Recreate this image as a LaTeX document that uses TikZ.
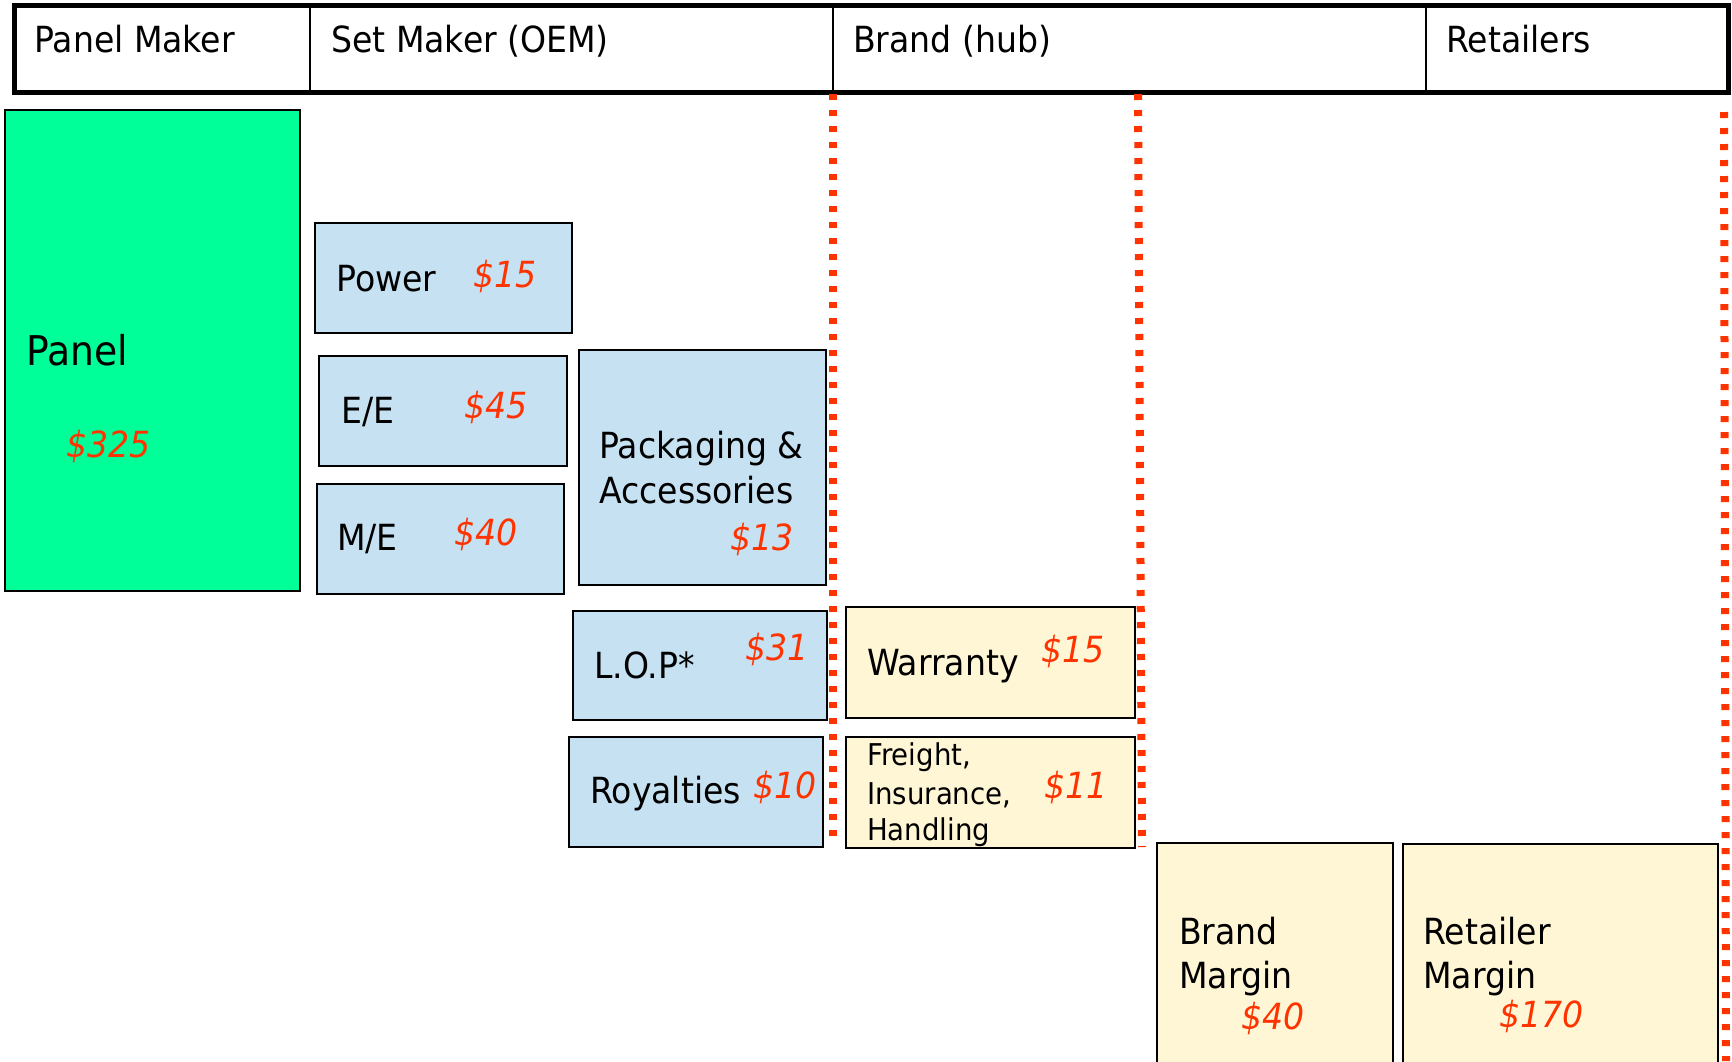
\documentclass[tikz,border=0pt]{standalone}
\usepackage{fontspec}
\setmainfont{DejaVu Sans}[FakeStretch=0.92]
\definecolor{panelgreen}{HTML}{00FF99}
\definecolor{oemblue}{HTML}{C6E2F2}
\definecolor{hubcream}{HTML}{FFF6D5}
\definecolor{costred}{HTML}{FF3300}
\tikzset{
  costbox/.style={draw=black, line width=2pt, anchor=north west, inner sep=0pt},
  itemtext/.style={anchor=base west, inner sep=0pt, font=\fontsize{36}{44}\selectfont},
  smalltext/.style={itemtext, font=\fontsize{30}{37}\selectfont},
  amount/.style={itemtext, text=costred, font=\fontsize{36}{44}\selectfont\itshape},
  cutline/.style={draw=costred, line width=8pt, dash pattern=on 6pt off 10pt},
}
\begin{document}
\begin{tikzpicture}[x=1pt, y=-1pt]
    \useasboundingbox (0,0) rectangle (1732,1061);
    % Bandeau du haut
    \def\headtop{5}
    \def\headbot{92}
    \draw[line width=2pt] (310,\headtop) -- (310,\headbot);
    \draw[line width=2pt] (833,\headtop) -- (833,\headbot);
    \draw[line width=2pt] (1426,\headtop) -- (1426,\headbot);
    \draw[line width=5pt] (14,\headtop) rectangle (1728,\headbot);
    \node[itemtext] (panelmaker) at (34,52) {Panel Maker};
    \node[itemtext] (setmaker) at (331,52) {Set Maker (OEM)};
    \node[itemtext] (brandhub) at (853,52) {Brand (hub)};
    \node[itemtext] (retailers) at (1446,52) {Retailers};
    % Lignes de partage (pointillés rouges)
    \coordinate (cutAtop) at (833,94);
    \coordinate (cutAbot) at (833,840);
    \coordinate (cutBtop) at (1138,94);
    \coordinate (cutBbot) at (1142,847);
    \coordinate (cutCtop) at (1724,112);
    \coordinate (cutCbot) at (1726,1061);
    \draw[cutline] (cutAtop) -- (cutAbot);
    \draw[cutline] (cutBtop) -- (cutBbot);
    \draw[cutline] (cutCtop) -- (cutCbot);
    % Panel maker
    \node[costbox, fill=panelgreen, minimum width=295, minimum height=481] (panel) at (4,109) {};
    \node[itemtext, font=\fontsize{41}{49}\selectfont] (paneltxt) at (26,365) {Panel};
    \node[amount] (panelcost) at (66,457) {\$325};
    % Set maker
    \node[costbox, fill=oemblue, minimum width=257, minimum height=110] (power) at (314,222) {};
    \node[itemtext] (powertxt) at (336,291) {Power};
    \node[amount] (powercost) at (473,287) {\$15};
    \node[costbox, fill=oemblue, minimum width=248, minimum height=110] (ee) at (318,355) {};
    \node[itemtext] (eetxt) at (341,423) {E/E};
    \node[amount] (eecost) at (464,418) {\$45};
    \node[costbox, fill=oemblue, minimum width=247, minimum height=110] (me) at (316,483) {};
    \node[itemtext] (metxt) at (337,550) {M/E};
    \node[amount] (mecost) at (454,545) {\$40};
    \node[costbox, fill=oemblue, minimum width=247, minimum height=235] (pack) at (578,349) {};
    \node[itemtext] (packtxt) at (599,458) {Packaging \&};
    \node[itemtext] (accesstxt) at (599,503) {Accessories};
    \node[amount] (packcost) at (730,550) {\$13};
    \node[costbox, fill=oemblue, minimum width=254, minimum height=109] (lop) at (572,610) {};
    \node[itemtext] (loptxt) at (594,678) {L.O.P*};
    \node[amount] (lopcost) at (745,660) {\$31};
    \node[costbox, fill=oemblue, minimum width=254, minimum height=110] (royal) at (568,736) {};
    \node[itemtext] (royaltxt) at (590,803) {Royalties};
    \node[amount] (royalcost) at (753,798) {\$10};
    % Brand
    \node[costbox, fill=hubcream, minimum width=289, minimum height=111] (warranty) at (845,606) {};
    \node[itemtext] (warrantytxt) at (867,675) {Warranty};
    \node[amount] (warrantycost) at (1041,662) {\$15};
    \node[costbox, fill=hubcream, minimum width=289, minimum height=111] (freight) at (845,736) {};
    \node[smalltext] (freighttxt) at (867,765) {Freight,};
    \node[smalltext] (insurtxt) at (867,804) {Insurance,};
    \node[smalltext] (handltxt) at (867,840) {Handling};
    \node[amount] (freightcost) at (1044,798) {\$11};
    \node[costbox, fill=hubcream, minimum width=236, minimum height=222] (bmargin) at (1156,842) {};
    \node[itemtext] (bmargintxt) at (1179,944) {Brand};
    \node[itemtext] (bmargintxtb) at (1179,988) {Margin};
    \node[amount] (bmargincost) at (1241,1029) {\$40};
    % Retailers
    \node[costbox, fill=hubcream, minimum width=315, minimum height=221] (rmargin) at (1402,843) {};
    \node[itemtext] (rmargintxt) at (1423,944) {Retailer};
    \node[itemtext] (rmargintxtb) at (1423,988) {Margin};
    \node[amount] (rmargincost) at (1499,1027) {\$170};
\end{tikzpicture}
\end{document}
